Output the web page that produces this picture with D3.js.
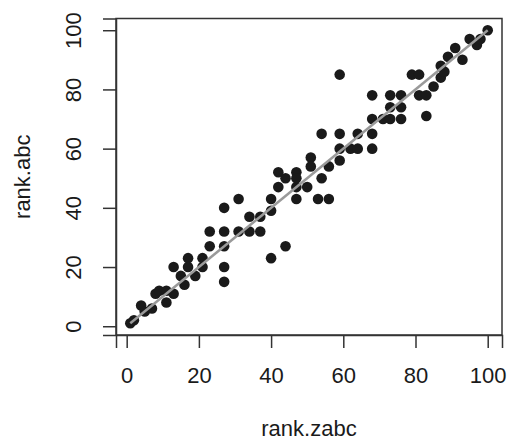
<!DOCTYPE html>
<html>
<head>
<meta charset="utf-8">
<script src="https://cdn.jsdelivr.net/npm/d3@7"></script>
<style>
    body { margin: 0; background: #fff; }
    text { font-family: "Liberation Sans", Arial, sans-serif; fill: #1a1a1a; }
</style>
</head>
<body>
<script>
// x values (rank.zabc)
var rank_zabc = [1, 2, 4, 5, 7, 8, 9, 11, 11, 13, 13, 15, 16, 17, 17, 19, 21, 21, 23, 23,
    27, 27, 27, 27, 27, 31, 31, 34, 34, 37, 37, 40, 40, 40, 42, 42, 44, 44, 47, 47,
    47, 47, 50, 51, 51, 53, 54, 54, 56, 56, 59, 59, 59, 59, 62, 64, 64, 68, 68, 68,
    68, 71, 73, 73, 73, 76, 76, 76, 79, 81, 81, 83, 83, 85, 87, 87, 88, 89, 91, 93,
    95, 97, 98, 100];

// y values (rank.abc), same order
var rank_abc = [1, 2, 7, 5, 6, 11, 12, 12, 8, 11, 20, 17, 14, 23, 20, 17, 20, 23, 32, 27,
    40, 32, 27, 20, 15, 43, 32, 37, 32, 37, 32, 43, 39, 23, 47, 52, 27, 50, 43, 47,
    52, 50, 47, 57, 54, 43, 50, 65, 43, 54, 56, 60, 65, 85, 60, 60, 65, 60, 65, 70,
    78, 70, 70, 74, 78, 70, 74, 78, 85, 85, 78, 78, 71, 81, 84, 88, 86, 91, 94, 90,
    97, 95, 97, 100];

// tick values for both axes
var tick_values = [0, 20, 40, 60, 80, 100];

// fitted line end points
var fit_line = [[1, 1], [100, 100]];

var svg_width = 507;
var svg_height = 443;
var margin = { top: 18.5, right: 5, bottom: 108, left: 116 };

const svg = d3.select('body')
    .append('svg')
    .attr("width", svg_width)
    .attr("height", svg_height);

// R style 4% padding on both ends
const x = d3.scaleLinear()
    .domain([-2.96, 103.96])
    .range([margin.left, svg_width - margin.right]);

const y = d3.scaleLinear()
    .domain([-2.96, 103.96])
    .range([svg_height - margin.bottom, margin.top]);

// plot box
svg.append('rect')
    .attr('x', x.range()[0])
    .attr('y', y.range()[1])
    .attr('width', x.range()[1] - x.range()[0])
    .attr('height', y.range()[0] - y.range()[1])
    .attr('fill', 'none')
    .attr('stroke', '#333')
    .attr('stroke-width', 1.5);

// x axis
const xAxis = svg.append('g')
    .attr('transform', `translate(0,${y.range()[0]})`)
    .call(d3.axisBottom(x).tickValues(tick_values).tickSize(13).tickPadding(19).tickFormat(d3.format('d')));

// y axis, labels turned like R does
const yAxis = svg.append('g')
    .attr('transform', `translate(${x.range()[0]},0)`)
    .call(d3.axisLeft(y).tickValues(tick_values).tickSize(13).tickFormat(d3.format('d')));

[xAxis, yAxis].forEach(g => {
    g.select('.domain').attr('stroke', '#333').attr('stroke-width', 1.5);
    g.selectAll('.tick line').attr('stroke', '#333').attr('stroke-width', 1.5);
    g.selectAll('.tick text')
        .style('font-size', '22px')
        .attr('fill', '#1a1a1a');
});

yAxis.selectAll('.tick text')
    .attr('x', 0)
    .attr('dy', null)
    .attr('text-anchor', 'middle')
    .attr('transform', 'translate(-35,0) rotate(-90)')
    .attr('y', 0);

// points
svg.append('g')
    .selectAll('circle')
    .data(rank_zabc)
    .enter()
    .append('circle')
    .attr('cx', d => x(d))
    .attr('cy', (d, i) => y(rank_abc[i]))
    .attr('r', 5.3)
    .attr('fill', '#1a1a1a');

// grey fitted line on top
svg.append('path')
    .datum(fit_line)
    .attr('d', d3.line().x(d => x(d[0])).y(d => y(d[1])))
    .attr('stroke', '#9a9a9a')
    .attr('stroke-width', 2.5)
    .attr('fill', 'none');

// axis titles
svg.append('text')
    .attr('x', (x.range()[0] + x.range()[1]) / 2)
    .attr('y', 436)
    .attr('text-anchor', 'middle')
    .style('font-size', '22px')
    .text('rank.zabc');

svg.append('text')
    .attr('transform', `translate(30,${(y.range()[0] + y.range()[1]) / 2}) rotate(-90)`)
    .attr('text-anchor', 'middle')
    .style('font-size', '22px')
    .text('rank.abc');
</script>
</body>
</html>
